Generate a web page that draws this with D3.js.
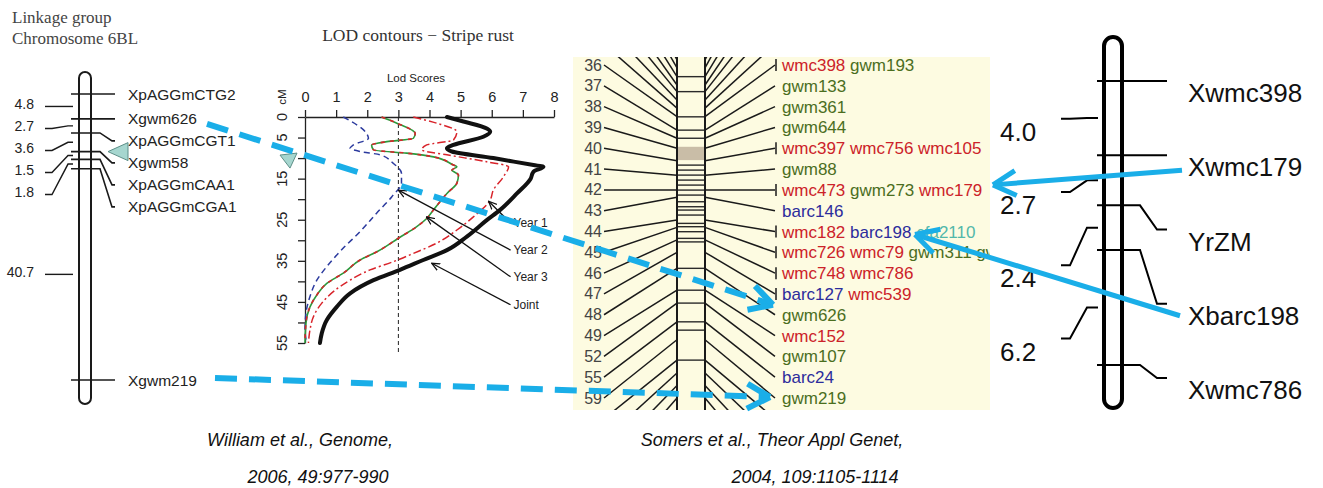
<!DOCTYPE html>
<html>
<head>
<meta charset="utf-8">
<script src="https://cdn.jsdelivr.net/npm/d3@7"></script>
<style>
body{margin:0;background:#fff}
svg text{font-family:"Liberation Sans",Arial,sans-serif}
</style>
</head>
<body>
<svg id="fig" width="1323" height="488"></svg>
<script>
'use strict'

// left map (William et al. 2006), cM gaps between neighbouring markers
const leftMarkers = ["XpAGGmCTG2", "Xgwm626", "XpAGGmCGT1", "Xgwm58", "XpAGGmCAA1", "XpAGGmCGA1", "Xgwm219"]
const leftGaps = [4.8, 2.7, 3.6, 1.5, 1.8, 40.7]

// LOD contours, pairs of [cM, LOD]
const lodTicks = [0, 1, 2, 3, 4, 5, 6, 7, 8]
const cmTicks = [0, 5, 10, 15, 20, 25, 30, 35, 40, 45, 50, 55]
const cmTickLabels = [0, 5, 15, 25, 35, 45, 55]
const year1 = [[0,3.48],[1.5,4.23],[3.6,4.88],[5.6,4.77],[6.8,3.91],[8,3.75],[9.2,4.56],[10.9,5.84],[12.1,6.54],[14.5,6.38],[17.8,6.05],[20.2,5.95],[24.3,5.41],[27.5,4.88],[30.7,4.23],[33.2,3.48],[35.2,2.84],[37.2,2.09],[39.7,1.45],[42.5,0.91],[45.3,0.54],[48.6,0.27],[51.8,0.16],[55,0.11]]
const year2 = [[0,1.23],[4,1.98],[5.2,2.04],[6.8,1.55],[7.6,1.45],[8.4,1.77],[9.2,2.41],[11.3,2.84],[13.7,3.1],[16,3.1],[19.4,2.79],[23.4,2.3],[27.9,1.77],[31.9,1.23],[36.4,0.7],[39.7,0.38],[43.7,0.16],[47.8,0.03],[51.8,0],[55,0.05]]
const year3 = [[0,2.46],[1.5,2.95],[4,3.54],[5.2,3.48],[6,2.63],[6.8,2.14],[8,2.2],[8.8,3.27],[9.7,4.13],[11.7,4.77],[12.1,4.88],[12.9,4.72],[14.1,4.93],[16.1,4.88],[18.6,4.56],[22.6,4.13],[24.7,3.91],[26.7,3.59],[29.5,3.0],[32.8,2.31],[34.8,1.77],[38,1.23],[40.5,0.7],[43.3,0.38],[46.2,0.16],[50.2,0.03],[55,0]]
const joint = [[0,4.56],[1.1,5.09],[2.8,5.84],[3.6,5.95],[4.8,5.73],[6.8,4.77],[7.6,4.56],[8.4,4.72],[10,6.05],[11.7,7.34],[12.1,7.66],[13.3,7.34],[15,7.25],[18.6,6.81],[22.6,6.27],[25.1,5.84],[29.1,5.2],[32.4,4.56],[34.8,3.8],[37.2,3.05],[39.7,2.2],[42.9,1.45],[46.2,1.02],[49.4,0.7],[52.6,0.54],[55,0.48]]
const curveNames = ["Year 1", "Year 2", "Year 3", "Joint"]
const curveTargets = [[20.5,5.9],[17.8,3.0],[24.3,3.9],[35.6,4.07]]   // where each label arrow points
const curveLabelCm = [25.8, 32.4, 38.9, 45.7]

// consensus map (Somers et al. 2004)
const mapRows = ["36","37","38","39","40","41","42","43","44","45","46","47","48","49","52","55","59"]
const mapMarkers = [
	[["wmc398","r"],["gwm193","g"]],
	[["gwm133","g"]],
	[["gwm361","g"]],
	[["gwm644","g"]],
	[["wmc397","r"],["wmc756","r"],["wmc105","r"]],
	[["gwm88","g"]],
	[["wmc473","r"],["gwm273","g"],["wmc179","r"]],
	[["barc146","b"]],
	[["wmc182","r"],["barc198","b"],["cfa2110","t"]],
	[["wmc726","r"],["wmc79","r"],["gwm311","g"],["gwm570","g"]],
	[["wmc748","r"],["wmc786","r"]],
	[["barc127","b"],["wmc539","r"]],
	[["gwm626","g"]],
	[["wmc152","r"]],
	[["gwm107","g"]],
	[["barc24","b"]],
	[["gwm219","g"]]
]
// chromosome bins, in row units (row 36 = 0)
const mapRungs = [0.56,1.28,2.49,3.13,3.52,4.81,5.05,5.29,5.53,5.77,6.01,6.25,6.57,6.81,6.97,7.21,7.61,7.77,8.01,8.33,8.5,9.77,10.82,11.44,12.34,12.74,14.18]
const mapBlock = [3.93, 4.57]
// where the fan line of row -8 .. 23 meets the chromosome, in row units
const fanFirst = -8
const fanEnds = [-0.62,-0.24,0.14,0.56,0.96,1.28,1.68,2.07,2.48,3.13,3.52,4.0,4.6,5.3,6.0,6.35,7.45,7.8,8.4,9.0,9.77,10.82,11.44,12.34,13.2,14.18,14.8,15.4,16.0,16.6,17.2,17.8]

// right map
const rightMarkers = ["Xwmc398", "Xwmc179", "YrZM", "Xbarc198", "Xwmc786"]
const rightGaps = [4.0, 2.7, 2.4, 6.2]

const svg = d3.select("#fig")
const blue = "#1aaee8"
const ink = "#1a1a1a"

//---------------- left linkage group
let leftPos = Array.from(d3.cumsum([0].concat(leftGaps)))
let yL = d3.scaleLinear().domain([0, d3.sum(leftGaps)]).range([94, 380])
let gL = svg.append("g")

gL.append("text").attr("x", 12).attr("y", 23).text("Linkage group")
	.style("font-family", "Liberation Serif, serif").style("font-size", "17px").attr("fill", "#444")
gL.append("text").attr("x", 12).attr("y", 44).text("Chromosome 6BL")
	.style("font-family", "Liberation Serif, serif").style("font-size", "17px").attr("fill", "#444")

gL.append("rect").attr("x", 79).attr("y", 72).attr("width", 12).attr("height", 332).attr("rx", 6)
	.attr("fill", "#fff").attr("stroke", ink).attr("stroke-width", 2)

let prev = -Infinity
let leftLab = leftPos.map(function(p){
	let ly = Math.max(yL(p), prev + 22)
	prev = ly
	return ly
})
leftMarkers.forEach(function(m, i){
	let my = yL(leftPos[i])
	gL.append("path").attr("d", "M71," + my + "H100L112," + leftLab[i] + "H115")
		.attr("fill", "none").attr("stroke", ink).attr("stroke-width", 1.6)
	gL.append("text").attr("x", 128).attr("y", leftLab[i]).attr("dominant-baseline", "central")
		.style("font-size", "15.5px").attr("fill", "#222").text(m)
})

prev = -Infinity
leftGaps.forEach(function(g, i){
	let mid = (yL(leftPos[i]) + yL(leftPos[i + 1])) / 2
	let ly = Math.max(mid, prev + 22)
	prev = ly
	gL.append("path").attr("d", "M45," + ly + "H52L68," + mid + "H73")
		.attr("fill", "none").attr("stroke", ink).attr("stroke-width", 1.4)
	gL.append("text").attr("x", 34).attr("y", ly - 2).attr("text-anchor", "end").attr("dominant-baseline", "central")
		.style("font-size", "14px").attr("fill", "#222").text(g.toFixed(1))
})

let qy = yL(leftPos[3])
gL.append("path").attr("d", "M108," + qy + "L128," + (qy - 9) + "L128," + (qy + 9) + "Z")
	.attr("fill", "#a6d6cf").attr("stroke", "#5d8f88").attr("stroke-width", 1)

//---------------- LOD contours
let x = d3.scaleLinear().domain([0, 8]).range([305, 554])
let y = d3.scaleLinear().domain([0, 55]).range([117, 343])
let gP = svg.append("g")

gP.append("text").attr("x", 418).attr("y", 41).attr("text-anchor", "middle")
	.style("font-family", "Liberation Serif, serif").style("font-size", "17.5px").attr("fill", "#333")
	.text("LOD contours \u2212 Stripe rust")
gP.append("text").attr("x", 416).attr("y", 82).attr("text-anchor", "middle")
	.style("font-size", "11.5px").attr("fill", "#222").text("Lod Scores")

let xAxis = gP.append("g").attr("transform", "translate(0," + y(0) + ")")
	.call(d3.axisTop(x).tickValues(lodTicks).tickSize(7).tickSizeOuter(0).tickPadding(8))
let yAxis = gP.append("g").attr("transform", "translate(" + x(0) + ",0)")
	.call(d3.axisLeft(y).tickValues(cmTicks).tickSize(7).tickSizeOuter(0).tickFormat(""))
;[xAxis, yAxis].forEach(function(a){
	a.selectAll("path,line").attr("stroke", "#222").attr("stroke-width", 1.3)
	a.selectAll("text").style("font-size", "14.5px").style("font-family", "Liberation Sans, Arial, sans-serif").attr("fill", "#222")
})
gP.selectAll(".ylab").data(cmTickLabels).enter().append("text")
	.attr("x", 282).attr("y", d => y(d))
	.attr("transform", d => "rotate(-90,282," + y(d) + ")")
	.attr("text-anchor", "middle").attr("dominant-baseline", "central")
	.style("font-size", "14.5px").attr("fill", "#222").text(d => d)
gP.append("text").attr("x", 282).attr("y", 97).attr("transform", "rotate(-90,282,97)")
	.attr("text-anchor", "middle").attr("dominant-baseline", "central")
	.style("font-size", "11.5px").attr("fill", "#222").text("cM")

gP.append("line").attr("x1", x(3)).attr("x2", x(3)).attr("y1", y(0)).attr("y2", 354)
	.attr("stroke", "#222").attr("stroke-width", 1).attr("stroke-dasharray", "4,3")

let lodLine = d3.line().x(d => x(d[1])).y(d => y(d[0])).curve(d3.curveMonotoneY)
gP.append("path").datum(year2).attr("d", lodLine).attr("fill", "none")
	.attr("stroke", "#2b3a9e").attr("stroke-width", 1.5).attr("stroke-dasharray", "6,4")
gP.append("path").datum(year3).attr("d", lodLine).attr("fill", "none")
	.attr("stroke", "#2c9a3c").attr("stroke-width", 1.6)
gP.append("path").datum(year3).attr("d", lodLine).attr("fill", "none")
	.attr("stroke", "#d8232a").attr("stroke-width", 1.6).attr("stroke-dasharray", "4,5")
gP.append("path").datum(year1).attr("d", lodLine).attr("fill", "none")
	.attr("stroke", "#d8232a").attr("stroke-width", 1.5).attr("stroke-dasharray", "8,3,2,3")
gP.append("path").datum(joint).attr("d", lodLine).attr("fill", "none")
	.attr("stroke", "#111").attr("stroke-width", 4).attr("stroke-linecap", "round")

svg.append("defs").append("marker").attr("id", "head")
	.attr("viewBox", "0 0 10 10").attr("refX", 9).attr("refY", 5)
	.attr("markerWidth", 9).attr("markerHeight", 9).attr("markerUnits", "userSpaceOnUse").attr("orient", "auto")
	.append("path").attr("d", "M0,1L9,5L0,9").attr("fill", "none").attr("stroke", "#111").attr("stroke-width", 1.4)

curveNames.forEach(function(n, i){
	let tx = x(6.7), ty = y(curveLabelCm[i])
	gP.append("line").attr("x1", tx - 3).attr("y1", ty).attr("x2", x(curveTargets[i][1])).attr("y2", y(curveTargets[i][0]))
		.attr("stroke", "#111").attr("stroke-width", 1.3).attr("marker-end", "url(#head)")
	gP.append("text").attr("x", tx).attr("y", ty).attr("dominant-baseline", "central")
		.style("font-size", "12px").attr("fill", "#222").text(n)
})

let ty10 = y(10)
gP.append("path").attr("d", "M280," + (ty10 - 3) + "L297," + (ty10 - 5) + "L290," + (ty10 + 10) + "Z")
	.attr("fill", "#a6d6cf").attr("stroke", "#5d8f88").attr("stroke-width", 1)

//---------------- consensus map
let rowY = d3.scaleLinear().domain([0, mapRows.length - 1]).range([65, 398])
let colours = {r: "#cc2229", g: "#4b6e1e", b: "#2c2c9c", t: "#52b8aa"}
let gM = svg.append("g")
svg.select("defs").append("clipPath").attr("id", "mapclip")
	.append("rect").attr("x", 573).attr("y", 57).attr("width", 417).attr("height", 353)
gM.attr("clip-path", "url(#mapclip)")
gM.append("rect").attr("x", 573).attr("y", 57).attr("width", 417).attr("height", 353).attr("fill", "#fdfbe1")

gM.append("rect").attr("x", 677).attr("y", rowY(mapBlock[0])).attr("width", 28)
	.attr("height", rowY(mapBlock[1]) - rowY(mapBlock[0])).attr("fill", "#c9bda7")
gM.selectAll(".rung").data(mapRungs).enter().append("line")
	.attr("x1", 677).attr("x2", 705).attr("y1", d => rowY(d)).attr("y2", d => rowY(d))
	.attr("stroke", "#2a2a2a").attr("stroke-width", 1.4)
;[677, 705].forEach(function(cx){
	gM.append("line").attr("x1", cx).attr("x2", cx).attr("y1", 57).attr("y2", 410)
		.attr("stroke", ink).attr("stroke-width", 2)
})
fanEnds.forEach(function(e, k){
	let ly = rowY(fanFirst + k), ey = rowY(e)
	gM.append("line").attr("x1", 604).attr("y1", ly).attr("x2", 677).attr("y2", ey)
		.attr("stroke", ink).attr("stroke-width", 1.5)
	gM.append("line").attr("x1", 705).attr("y1", ey).attr("x2", 775).attr("y2", ly)
		.attr("stroke", ink).attr("stroke-width", 1.5)
})
mapRows.forEach(function(r, i){
	let ly = rowY(i)
	gM.append("text").attr("x", 602).attr("y", ly).attr("text-anchor", "end").attr("dominant-baseline", "central")
		.style("font-size", "16px").attr("fill", "#444").text(r)
	if (mapMarkers[i].length > 1){
		gM.append("line").attr("x1", 776).attr("x2", 776).attr("y1", ly - 6).attr("y2", ly + 6)
			.attr("stroke", ink).attr("stroke-width", 1.5)
	}
	let t = gM.append("text").attr("x", 782).attr("y", ly).attr("dominant-baseline", "central")
		.style("font-size", "17px")
	mapMarkers[i].forEach(function(m, j){
		t.append("tspan").attr("fill", colours[m[1]]).text((j > 0 ? " " : "") + m[0])
	})
})

//---------------- right map
let rightPos = Array.from(d3.cumsum([0].concat(rightGaps)))
let yR = d3.scaleLinear().domain([0, d3.sum(rightGaps)]).range([81, 365])
let gR = svg.append("g")
gR.append("rect").attr("x", 1104).attr("y", 37).attr("width", 18).attr("height", 371).attr("rx", 9)
	.attr("fill", "#fff").attr("stroke", "#000").attr("stroke-width", 4)
rightMarkers.forEach(function(m, i){
	let my = yR(rightPos[i]), ly = 93 + i * 74.25
	gR.append("path").attr("d", "M1097," + my + "H1140L1157," + (ly - 12) + "H1167")
		.attr("fill", "none").attr("stroke", "#000").attr("stroke-width", 2)
	gR.append("text").attr("x", 1188).attr("y", ly).attr("dominant-baseline", "central")
		.style("font-size", "26px").attr("fill", "#111").text(m)
})
rightGaps.forEach(function(g, i){
	let mid = (yR(rightPos[i]) + yR(rightPos[i + 1])) / 2, ly = 131.7 + i * 73.3
	gR.append("path").attr("d", "M1098," + mid + "H1087L1070," + (ly - 13) + "H1061")
		.attr("fill", "none").attr("stroke", "#000").attr("stroke-width", 2)
	gR.append("text").attr("x", 1000).attr("y", ly).attr("dominant-baseline", "central")
		.style("font-size", "26px").attr("fill", "#111").text(g.toFixed(1))
})

//---------------- blue connectors
function blueArrow(x1, y1, x2, y2, dashed){
	let g = svg.append("g").attr("stroke", blue).attr("fill", "none").attr("stroke-width", dashed ? 6 : 5)
	g.append("line").attr("x1", x1).attr("y1", y1).attr("x2", x2).attr("y2", y2)
		.attr("stroke-dasharray", dashed ? "22,12" : null)
	let a = Math.atan2(y2 - y1, x2 - x1)
	;[a + Math.PI - 0.5, a + Math.PI + 0.5].forEach(function(b){
		g.append("line").attr("x1", x2).attr("y1", y2)
			.attr("x2", x2 + 26 * Math.cos(b)).attr("y2", y2 + 26 * Math.sin(b))
	})
}
blueArrow(207, leftLab[1] + 5, 773, rowY(12) - 10, true)
blueArrow(215, leftLab[6] - 2, 770, rowY(16) - 1, true)
blueArrow(1182, 93 + 74.25 + 3, 993, rowY(6) - 5, false)
blueArrow(1180, 93 + 3 * 74.25, 915, rowY(8) + 3, false)

//---------------- captions
let caps = [["William et al., Genome,", 300, 440], ["2006, 49:977-990", 318, 477],
	["Somers et al., Theor Appl Genet,", 772, 440], ["2004, 109:1105-1114", 815, 477]]
caps.forEach(function(c){
	svg.append("text").attr("x", c[1]).attr("y", c[2]).attr("text-anchor", "middle").attr("dominant-baseline", "central")
		.style("font-family", "Liberation Sans Narrow, Liberation Sans, Arial, sans-serif")
		.style("font-style", "italic").style("font-size", "18px").attr("fill", "#111").text(c[0])
})
</script>
</body>
</html>
